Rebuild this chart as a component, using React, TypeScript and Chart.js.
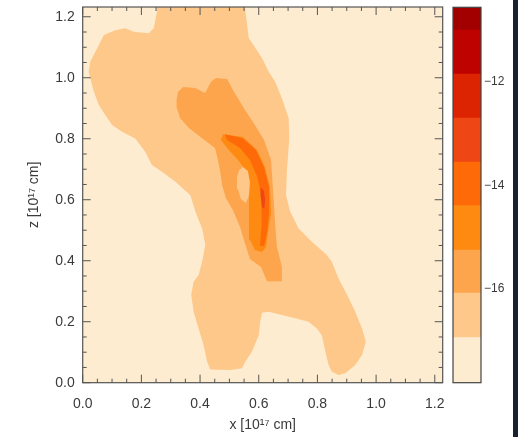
import React, { useEffect, useRef } from 'react';
import { Chart, registerables } from 'chart.js';
Chart.register(...registerables);

// ---- axes ----
const axisTicks = [0, 0.2, 0.4, 0.6, 0.8, 1.0, 1.2];
const xMax = 1.227;
const yMax = 1.232;
const xTitle = 'x [10\u00b9\u2077 cm]';
const yTitle = 'z [10\u00b9\u2077 cm]';

// ---- colour bar (log density levels) ----
const colorbarTicks = [-16, -14, -12];
const levelEdges = [-17.81, -16.94, -16.08, -15.25, -14.39, -13.55, -12.7, -11.85, -11.0, -10.56];
const levelColors = ['#fdecd0', '#fdc88a', '#fca54c', '#fe8a12', '#ff6a08', '#ee4614', '#dc2402', '#bd0200', '#a20000'];

// ---- contour outlines [x, z] in 1e17 cm ----
const contourLevel1: number[][] = [
  [0.253, 1.26], [0.549, 1.26], [0.566, 1.130], [0.611, 1.065], [0.634, 1.020], [0.656, 0.987],
  [0.679, 0.933], [0.702, 0.867], [0.704, 0.801], [0.700, 0.747], [0.696, 0.692], [0.693, 0.615],
  [0.707, 0.561], [0.736, 0.506], [0.781, 0.462], [0.832, 0.419], [0.849, 0.397], [0.872, 0.342],
  [0.901, 0.288], [0.929, 0.233], [0.952, 0.178], [0.965, 0.134], [0.952, 0.091], [0.929, 0.058],
  [0.895, 0.031], [0.872, 0.025], [0.849, 0.036], [0.838, 0.058], [0.827, 0.102], [0.815, 0.156],
  [0.798, 0.178], [0.770, 0.200], [0.724, 0.211], [0.679, 0.222], [0.634, 0.233], [0.611, 0.229],
  [0.605, 0.200], [0.600, 0.156], [0.577, 0.102], [0.554, 0.069], [0.543, 0.047], [0.502, 0.042],
  [0.435, 0.043], [0.424, 0.069], [0.412, 0.124], [0.395, 0.178], [0.378, 0.233], [0.370, 0.288],
  [0.378, 0.331], [0.395, 0.353], [0.407, 0.397], [0.418, 0.452], [0.407, 0.506], [0.384, 0.561],
  [0.367, 0.615], [0.316, 0.659], [0.270, 0.692], [0.236, 0.714], [0.213, 0.757], [0.179, 0.801],
  [0.134, 0.823], [0.100, 0.845], [0.077, 0.878], [0.055, 0.911], [0.038, 0.954], [0.020, 1.020],
  [0.026, 1.053], [0.049, 1.096], [0.072, 1.140], [0.111, 1.156], [0.145, 1.162], [0.174, 1.151],
  [0.225, 1.146], [0.242, 1.162], [0.253, 1.216],
];
const contourLevel2: number[][] = [
  [0.320, 0.927], [0.325, 0.953], [0.342, 0.970], [0.383, 0.966], [0.417, 0.950], [0.437, 0.986],
  [0.454, 0.999], [0.492, 0.996], [0.512, 0.960], [0.553, 0.894], [0.587, 0.845], [0.618, 0.796],
  [0.642, 0.730], [0.648, 0.642], [0.655, 0.533], [0.662, 0.445], [0.679, 0.379], [0.679, 0.333],
  [0.628, 0.333], [0.608, 0.379], [0.570, 0.406], [0.556, 0.448], [0.536, 0.511], [0.512, 0.566],
  [0.488, 0.606], [0.475, 0.648], [0.468, 0.697], [0.461, 0.730], [0.451, 0.770], [0.407, 0.802],
  [0.362, 0.835], [0.332, 0.868], [0.321, 0.901],
];
const contourLevel3: number[][] = [
  [0.478, 0.815], [0.546, 0.806], [0.594, 0.763], [0.621, 0.707], [0.638, 0.642], [0.642, 0.556],
  [0.631, 0.491], [0.625, 0.445], [0.611, 0.429], [0.587, 0.435], [0.570, 0.468], [0.567, 0.517],
  [0.567, 0.583], [0.567, 0.648], [0.556, 0.697], [0.529, 0.730], [0.498, 0.763], [0.471, 0.796],
];
const contourLevel4: number[][] = [
  [0.485, 0.815], [0.546, 0.802], [0.590, 0.763], [0.618, 0.707], [0.635, 0.642], [0.635, 0.556],
  [0.628, 0.491], [0.618, 0.448], [0.604, 0.448], [0.608, 0.501], [0.611, 0.556], [0.608, 0.615],
  [0.594, 0.678], [0.570, 0.730], [0.536, 0.770], [0.492, 0.796],
];
const contourLevel5: number[][] = [
  [0.606, 0.640], [0.617, 0.630], [0.622, 0.600], [0.619, 0.570], [0.611, 0.576], [0.607, 0.609],
];
const contourHole: number[][] = [
  [0.546, 0.707], [0.563, 0.694], [0.570, 0.658], [0.567, 0.615], [0.556, 0.589], [0.539, 0.602],
  [0.529, 0.635], [0.526, 0.674], [0.533, 0.697],
];

const FONT = "'Liberation Sans', 'DejaVu Sans', Arial, sans-serif";
const TEXT = '#3a3a3a';
const FRAME = '#555555';

const toPts = (a: number[][]) => {
  const p = a.map(([x, y]) => ({ x, y }));
  p.push({ x: a[0][0], y: a[0][1] });
  return p;
};

const shape = (a: number[][], color: string, order: number) => ({
  data: toPts(a),
  showLine: true,
  fill: 'shape',
  backgroundColor: color,
  borderColor: color,
  borderWidth: 0,
  pointRadius: 0,
  tension: 0,
  order,
});

const bgPlugin = {
  id: 'bgFill',
  beforeDatasetsDraw(chart: any) {
    const { ctx, chartArea: a } = chart;
    ctx.save();
    ctx.fillStyle = levelColors[0];
    ctx.fillRect(a.left, a.top, a.right - a.left, a.bottom - a.top);
    ctx.restore();
  },
};

const framePlugin = {
  id: 'frameTicks',
  afterDraw(chart: any) {
    const { ctx, chartArea: a, scales } = chart;
    ctx.save();
    ctx.strokeStyle = FRAME;
    ctx.lineWidth = 1.2;
    ctx.strokeRect(a.left, a.top, a.right - a.left, a.bottom - a.top);
    ctx.lineWidth = 1;
    ctx.beginPath();
    for (let i = 0; i <= 24; i++) {
      const v = i * 0.05;
      const len = i % 4 === 0 ? 8 : 4;
      const px = scales.x.getPixelForValue(v);
      ctx.moveTo(px, a.bottom); ctx.lineTo(px, a.bottom - len);
      ctx.moveTo(px, a.top); ctx.lineTo(px, a.top + len);
      const py = scales.y.getPixelForValue(v);
      ctx.moveTo(a.left, py); ctx.lineTo(a.left + len, py);
      ctx.moveTo(a.right, py); ctx.lineTo(a.right - len, py);
    }
    ctx.stroke();
    ctx.restore();
  },
};

const cbFramePlugin = {
  id: 'cbFrame',
  afterDraw(chart: any) {
    const { ctx, chartArea: a } = chart;
    ctx.save();
    ctx.strokeStyle = '#444';
    ctx.lineWidth = 1.2;
    ctx.strokeRect(a.left, a.top, a.right - a.left, a.bottom - a.top);
    ctx.restore();
  },
};

const noPad = (s: any) => { s.paddingLeft = 0; s.paddingRight = 0; s.paddingTop = 0; s.paddingBottom = 0; };

export default function App() {
  const mainRef = useRef<HTMLCanvasElement>(null);
  const barRef = useRef<HTMLCanvasElement>(null);

  useEffect(() => {
    const tickFont = { family: FONT, size: 14 };
    const main = new Chart(mainRef.current as HTMLCanvasElement, {
      type: 'scatter',
      data: {
        datasets: [
          shape(contourLevel1, levelColors[1], 6),
          shape(contourLevel2, levelColors[2], 5),
          shape(contourLevel3, levelColors[3], 4),
          shape(contourLevel4, levelColors[4], 3),
          shape(contourLevel5, levelColors[5], 2),
          shape(contourHole, levelColors[1], 1),
        ] as any,
      },
      options: {
        animation: false,
        responsive: false,
        devicePixelRatio: 1,
        events: [],
        layout: { padding: { left: 0, top: 7, right: 2.3, bottom: 0 } },
        plugins: { legend: { display: false }, tooltip: { enabled: false } },
        scales: {
          x: {
            type: 'linear',
            min: 0,
            max: xMax,
            afterBuildTicks: (s: any) => { s.ticks = axisTicks.map((value) => ({ value })); },
            afterFit: (s: any) => { s.height = 54.3; noPad(s); },
            ticks: { callback: (v: any) => Number(v).toFixed(1), font: tickFont, color: TEXT, padding: 13, maxRotation: 0 },
            grid: { display: false, drawTicks: false },
            border: { display: false },
            title: { display: true, text: xTitle, font: tickFont, color: TEXT, padding: { top: 0, bottom: 3.5 } },
          },
          y: {
            type: 'linear',
            min: 0,
            max: yMax,
            afterBuildTicks: (s: any) => { s.ticks = axisTicks.map((value) => ({ value })); },
            afterFit: (s: any) => { s.width = 82.7; noPad(s); },
            ticks: { callback: (v: any) => Number(v).toFixed(1), font: tickFont, color: TEXT, padding: 8 },
            grid: { display: false, drawTicks: false },
            border: { display: false },
            title: { display: true, text: yTitle, font: tickFont, color: TEXT, padding: { top: 26, bottom: 0 } },
          },
        },
      } as any,
      plugins: [bgPlugin, framePlugin],
    });

    const bar = new Chart(barRef.current as HTMLCanvasElement, {
      type: 'bar',
      data: {
        labels: [''],
        datasets: levelColors.map((c, i) => ({
          data: [[levelEdges[i], levelEdges[i + 1]]],
          backgroundColor: c,
          borderWidth: 0,
          barPercentage: 1,
          categoryPercentage: 1,
          grouped: false,
        })) as any,
      },
      options: {
        animation: false,
        responsive: false,
        devicePixelRatio: 1,
        events: [],
        layout: { padding: { left: 13, top: 7.3, right: 0, bottom: 54.3 } },
        plugins: { legend: { display: false }, tooltip: { enabled: false } },
        scales: {
          x: { display: false },
          y: {
            position: 'right',
            min: levelEdges[0],
            max: levelEdges[levelEdges.length - 1],
            afterBuildTicks: (s: any) => { s.ticks = colorbarTicks.map((value) => ({ value })); },
            afterFit: (s: any) => { s.width = 32; noPad(s); },
            ticks: { callback: (v: any) => '\u2212' + Math.abs(Number(v)), font: { family: FONT, size: 12 }, color: TEXT, padding: 3 },
            grid: { display: false, drawTicks: false },
            border: { display: false },
          },
        },
      } as any,
      plugins: [cbFramePlugin],
    });

    return () => { main.destroy(); bar.destroy(); };
  }, []);

  return (
    <div style={{ position: 'absolute', left: 0, top: 0, width: 518, height: 437, background: '#ffffff', overflow: 'hidden' }}>
      <canvas ref={mainRef} width={445} height={437} style={{ position: 'absolute', left: 0, top: 0, width: 445, height: 437 }} />
      <canvas ref={barRef} width={73} height={437} style={{ position: 'absolute', left: 440, top: 0, width: 73, height: 437 }} />
      <div style={{ position: 'absolute', left: 513, top: 0, width: 5, height: 437, background: '#16222e' }} />
    </div>
  );
}
